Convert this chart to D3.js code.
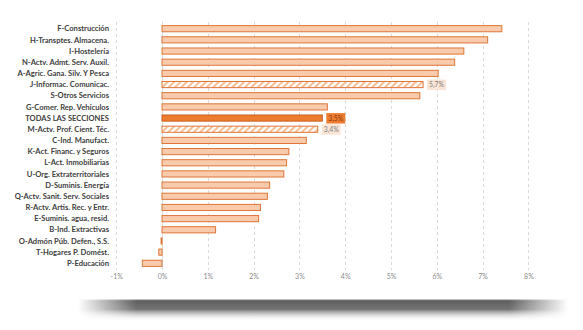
<!DOCTYPE html>
<html>
<head>
<meta charset="utf-8">
<script src="https://cdn.jsdelivr.net/npm/d3@7"></script>
<style>
  html, body { margin: 0; padding: 0; background: #ffffff; }
  svg { display: block; }
</style>
</head>
<body>
<svg id="chart" width="583" height="330"></svg>
<script>
// Sections, in the order they are drawn from top to bottom
const categories = [
  "F-Construcción",
  "H-Transptes. Almacena.",
  "I-Hostelería",
  "N-Actv. Admt. Serv. Auxil.",
  "A-Agric. Gana. Silv. Y Pesca",
  "J-Informac. Comunicac.",
  "S-Otros Servicios",
  "G-Comer. Rep. Vehículos",
  "TODAS LAS SECCIONES",
  "M-Actv. Prof. Cient. Téc.",
  "C-Ind. Manufact.",
  "K-Act. Financ. y Seguros",
  "L-Act. Inmobiliarias",
  "U-Org. Extraterritoriales",
  "D-Suminis. Energía",
  "Q-Actv. Sanit. Serv. Sociales",
  "R-Actv. Artis. Rec. y Entr.",
  "E-Suminis. agua, resid.",
  "B-Ind. Extractivas",
  "O-Admón Púb. Defen., S.S.",
  "T-Hogares P. Domést.",
  "P-Educación"
];

// Annual change, in percent
const values = [7.42, 7.11, 6.59, 6.39, 6.03, 5.7, 5.63, 3.61, 3.5, 3.4, 3.15,
                2.77, 2.72, 2.66, 2.35, 2.30, 2.15, 2.11, 1.17, -0.02, -0.07, -0.43];

// Bars drawn with a hatched fill, the highlighted total, and the labelled bars
const hatched = ["J-Informac. Comunicac.", "M-Actv. Prof. Cient. Téc."];
const highlighted = ["TODAS LAS SECCIONES"];
const labelled = ["J-Informac. Comunicac.", "TODAS LAS SECCIONES", "M-Actv. Prof. Cient. Téc."];

const tickValues = [-1, 0, 1, 2, 3, 4, 5, 6, 7, 8];

const svg = d3.select("#chart");
const defs = svg.append("defs");

// diagonal stripes for the hatched bars
const pat = defs.append("pattern")
  .attr("id", "hatch")
  .attr("patternUnits", "userSpaceOnUse")
  .attr("width", 4.5).attr("height", 4.5)
  .attr("patternTransform", "rotate(45)");
pat.append("rect").attr("width", 4.5).attr("height", 4.5).attr("fill", "#ffffff");
pat.append("rect").attr("width", 2).attr("height", 4.5).attr("fill", "#f6bd94");

// soft shadow under the card
const vg = defs.append("linearGradient").attr("id", "shadeV")
  .attr("x1", 0).attr("y1", 0).attr("x2", 0).attr("y2", 1);
vg.append("stop").attr("offset", "0").attr("stop-color", "#555555").attr("stop-opacity", 0.85);
vg.append("stop").attr("offset", "0.08").attr("stop-color", "#444444").attr("stop-opacity", 0.95);
vg.append("stop").attr("offset", "0.45").attr("stop-color", "#4a4a4a").attr("stop-opacity", 0.85);
vg.append("stop").attr("offset", "1").attr("stop-color", "#ffffff").attr("stop-opacity", 0);

const hg = defs.append("linearGradient").attr("id", "shadeH")
  .attr("x1", 0).attr("y1", 0).attr("x2", 1).attr("y2", 0);
hg.append("stop").attr("offset", "0").attr("stop-color", "#fff").attr("stop-opacity", 0);
hg.append("stop").attr("offset", "0.12").attr("stop-color", "#fff").attr("stop-opacity", 0.9);
hg.append("stop").attr("offset", "0.88").attr("stop-color", "#fff").attr("stop-opacity", 0.9);
hg.append("stop").attr("offset", "1").attr("stop-color", "#fff").attr("stop-opacity", 0);

const mask = defs.append("mask").attr("id", "shadeMask")
  .attr("maskUnits", "userSpaceOnUse")
  .attr("x", 0).attr("y", 0).attr("width", 583).attr("height", 330);
mask.append("rect").attr("x", 78).attr("y", 299).attr("width", 490).attr("height", 23)
  .attr("fill", "url(#shadeH)");

svg.append("rect")
  .attr("x", 78).attr("y", 299.5).attr("width", 490).attr("height", 22)
  .attr("fill", "url(#shadeV)")
  .attr("mask", "url(#shadeMask)");

// scales
const x = d3.scaleLinear().domain([-1, 8]).range([116.2, 528.4]);
const y = d3.scaleBand().domain(categories)
  .range([23.1, 268.9]).paddingInner(0.45).paddingOuter(0.225);

const gridTop = 22, gridBottom = 270;

// vertical gridlines
svg.append("g").selectAll("line")
  .data(tickValues.filter(d => d !== 0))
  .join("line")
  .attr("x1", d => Math.round(x(d)) + 0.5).attr("x2", d => Math.round(x(d)) + 0.5)
  .attr("y1", gridTop).attr("y2", gridBottom)
  .attr("stroke", "#d9d9d9").attr("stroke-width", 1)
  .attr("stroke-dasharray", "3,3");

svg.append("line")
  .attr("x1", Math.round(x(0)) + 0.5).attr("x2", Math.round(x(0)) + 0.5)
  .attr("y1", gridTop).attr("y2", gridBottom)
  .attr("stroke", "#d9d9d9").attr("stroke-width", 1);

// x-axis labels
const xAxis = d3.axisBottom(x).tickValues(tickValues)
  .tickSize(0).tickPadding(0)
  .tickFormat(d => d + "%");
const ax = svg.append("g").attr("transform", `translate(0, 274)`).call(xAxis);
ax.select(".domain").remove();
ax.selectAll("text")
  .attr("fill", "#8c8c8c")
  .attr("font-family", "Lato, 'Liberation Sans', sans-serif")
  .attr("font-size", 7);

// bars
const rows = categories.map((c, i) => ({ cat: c, v: values[i] }));

svg.append("g").selectAll("rect")
  .data(rows)
  .join("rect")
  .attr("x", d => x(Math.min(0, d.v)))
  .attr("y", d => y(d.cat))
  .attr("width", d => Math.max(0.8, Math.abs(x(d.v) - x(0))))
  .attr("height", y.bandwidth())
  .attr("fill", d => highlighted.includes(d.cat) ? "#ed7d31"
                   : hatched.includes(d.cat) ? "url(#hatch)" : "#f8cbad")
  .attr("stroke", d => highlighted.includes(d.cat) ? "#c9601e" : "#df7637")
  .attr("stroke-width", 1);

// category labels
svg.append("g").selectAll("text")
  .data(categories)
  .join("text")
  .attr("x", 109)
  .attr("y", d => y(d) + y.bandwidth() / 2)
  .attr("dy", "0.35em")
  .attr("text-anchor", "end")
  .attr("fill", "#404040")
  .attr("font-family", "Lato, 'Liberation Sans', sans-serif")
  .attr("font-weight", 700)
  .attr("font-size", 7.6)
  .text(d => d);

// value labels with boxes
const es = d3.formatLocale({ decimal: ",", thousands: ".", grouping: [3], currency: ["", "€"] });
const fmt = es.format(".1f");

const lab = svg.append("g").selectAll("g")
  .data(rows.filter(d => labelled.includes(d.cat)))
  .join("g")
  .attr("transform", d => `translate(${x(d.v) + 4}, ${y(d.cat) + y.bandwidth() / 2})`);

lab.append("rect")
  .attr("x", 0).attr("y", -5)
  .attr("width", 19).attr("height", 10.5)
  .attr("fill", d => highlighted.includes(d.cat) ? "#ed7d31" : "#fbe5d6");

lab.append("text")
  .attr("x", 9.5).attr("y", 0.3)
  .attr("dy", "0.35em")
  .attr("text-anchor", "middle")
  .attr("fill", d => highlighted.includes(d.cat) ? "#8a3b0e" : "#7f7f7f")
  .attr("font-family", "Lato, 'Liberation Sans', sans-serif")
  .attr("font-size", 6.8)
  .text(d => fmt(d.v) + "%");
</script>
</body>
</html>
